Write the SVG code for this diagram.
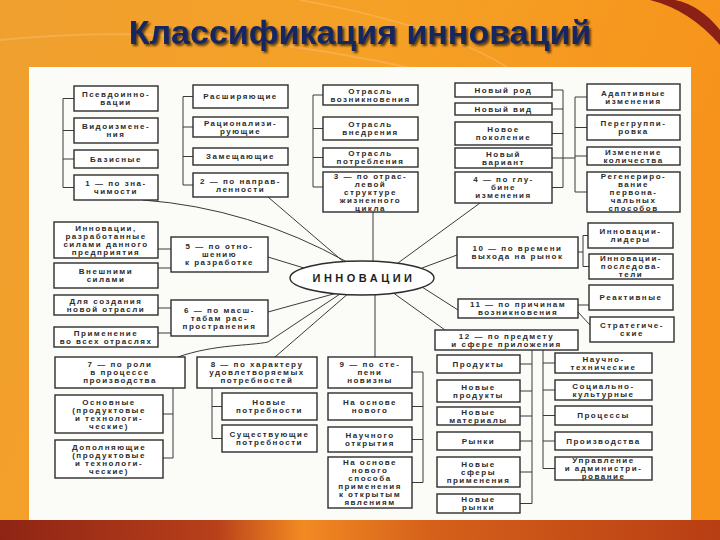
<svg xmlns="http://www.w3.org/2000/svg" width="720" height="540" viewBox="0 0 720 540">
<defs>
<linearGradient id="bg" x1="0" y1="0" x2="1" y2="0.3">
<stop offset="0" stop-color="#f0a030"/>
<stop offset="0.5" stop-color="#f5a126"/>
<stop offset="1" stop-color="#f7921a"/>
</linearGradient>
<linearGradient id="bot" x1="0" y1="0" x2="1" y2="0">
<stop offset="0" stop-color="#8e2414"/>
<stop offset="0.3" stop-color="#b8401a"/>
<stop offset="0.42" stop-color="#f28a22"/>
<stop offset="0.6" stop-color="#d5601a"/>
<stop offset="1" stop-color="#b83e14"/>
</linearGradient>
<filter id="sh" x="-5%" y="-20%" width="110%" height="150%">
<feDropShadow dx="2" dy="2" stdDeviation="0.8" flood-color="#2a1a05" flood-opacity="0.75"/>
</filter>
<style>
.b{fill:#fff;stroke:#2d2d2d;stroke-width:1.4}
.c{fill:none;stroke:#3a3a3a;stroke-width:1}
.t{font-family:"Liberation Sans","DejaVu Sans",sans-serif;font-size:8px;font-weight:bold;letter-spacing:1.5px;fill:#2b2b2b;text-anchor:middle}
.e{font-family:"Liberation Sans","DejaVu Sans",sans-serif;font-size:11px;font-weight:bold;letter-spacing:3.5px;fill:#1e1e1e;text-anchor:middle}
.ti{font-family:"Liberation Sans","Arial",sans-serif;font-size:34px;font-weight:bold;text-anchor:middle;fill:#182660}
</style>
</defs>
<rect x="0" y="0" width="720" height="540" fill="url(#bg)"/>
<path d="M0,40 Q200,20 420,70" fill="none" stroke="#f8b860" stroke-width="2" opacity="0.6"/>
<path d="M300,0 Q520,40 560,120" fill="none" stroke="#fbc070" stroke-width="1.5" opacity="0.5"/>
<path d="M650,0 Q690,10 720,45 L720,30 Q700,5 675,0 Z" fill="#8a2016"/>
<rect x="0" y="520" width="720" height="20" fill="url(#bot)"/>
<text class="ti" x="360" y="44" filter="url(#sh)">Классификация инноваций</text>
<rect x="29" y="67" width="662" height="453" fill="#fbfbf8"/>

<g id="connectors" class="c">
<path d="M74,98.5 H63 V187.5 H74 M63,130.5 H74 M63,159 H74"/>
<path d="M193,96.5 H183 V185 H193 M183,127 H193 M183,156.5 H193"/>
<path d="M323,95 H313 V187 H323 M313,128.5 H323 M313,157.5 H323"/>
<path d="M552,90 H563 V187.5 H552 M552,109 H563 M552,133.5 H563 M552,158 H575"/>
<path d="M587,97 H575 V192 H587 M575,127.5 H587 M575,156 H587"/>
<path d="M373,212 V270"/>
<path d="M480,203 L398,263"/>
<path d="M143,200 Q250,208 347,262"/>
<path d="M268,197 L345,263"/>
<path d="M268,257 L304,268"/>
<path d="M268,312 L337,293"/>
<path d="M178,357 C215,344 250,346 268,342 L343,292"/>
<path d="M275,357 L350,292"/>
<path d="M375,357 V290"/>
<path d="M457,255 L422,268"/>
<path d="M458,310 L422,287"/>
<path d="M445,330 L392,292"/>
<path d="M158,249 H171 M158,268 H171"/>
<path d="M158,308 H171 M158,333 H171"/>
<path d="M173,388 V458 H163 M173,414 H163"/>
<path d="M212,388 V438.5 H222 M212,406.5 H222"/>
<path d="M412,372 H423 V482.5 H412 M423,406.5 H412 M423,439.5 H412"/>
<path d="M578,252 H583 V235.5 H588 M583,252 V266.5 H589"/>
<path d="M578,305 H589 M578,312 L590,325"/>
<path d="M532,350 V503.5 H520 M532,364 H520 M532,391 H520 M532,416 H520 M532,441 H520 M532,472 H520"/>
<path d="M543,350 V468.5 H555 M543,363 H555 M543,390 H555 M543,415.5 H555 M543,441 H555"/>
</g>

<g id="center"><ellipse class="b" cx="362" cy="278" rx="72" ry="17"/><text class="e" x="364" y="282">ИННОВАЦИИ</text></g>

<g id="n1a"><rect class="b" x="74" y="86" width="84" height="25"/><text class="t" y="97.4"><tspan x="116">Псевдоинно-</tspan><tspan x="116" dy="8">вации</tspan></text></g>
<g id="n1b"><rect class="b" x="74" y="118" width="84" height="25"/><text class="t" y="129.4"><tspan x="116">Видоизмене-</tspan><tspan x="116" dy="8">ния</tspan></text></g>
<g id="n1c"><rect class="b" x="74" y="150" width="84" height="18"/><text class="t" x="116" y="161.9">Базисные</text></g>
<g id="n1"><rect class="b" x="74" y="175" width="84" height="25"/><text class="t" y="186.4"><tspan x="116">1 — по зна-</tspan><tspan x="116" dy="8">чимости</tspan></text></g>

<g id="n2a"><rect class="b" x="193" y="85" width="95" height="23"/><text class="t" x="240.5" y="99.4">Расширяющие</text></g>
<g id="n2b"><rect class="b" x="193" y="117" width="95" height="20"/><text class="t" y="125.9"><tspan x="240.5">Рационализи-</tspan><tspan x="240.5" dy="8">рующие</tspan></text></g>
<g id="n2c"><rect class="b" x="193" y="148" width="95" height="17"/><text class="t" x="240.5" y="159.4">Замещающие</text></g>
<g id="n2"><rect class="b" x="193" y="173" width="95" height="24"/><text class="t" y="183.9"><tspan x="240.5">2 — по направ-</tspan><tspan x="240.5" dy="8">ленности</tspan></text></g>

<g id="n3a"><rect class="b" x="323" y="85" width="95" height="20"/><text class="t" y="93.9"><tspan x="370.5">Отрасль</tspan><tspan x="370.5" dy="8">возникновения</tspan></text></g>
<g id="n3b"><rect class="b" x="323" y="117" width="95" height="23"/><text class="t" y="127.4"><tspan x="370.5">Отрасль</tspan><tspan x="370.5" dy="8">внедрения</tspan></text></g>
<g id="n3c"><rect class="b" x="323" y="148" width="95" height="19"/><text class="t" y="156.4"><tspan x="370.5">Отрасль</tspan><tspan x="370.5" dy="8">потребления</tspan></text></g>
<g id="n3"><rect class="b" x="323" y="172" width="95" height="40"/><text class="t" y="178.9"><tspan x="370.5">3 — по отрас-</tspan><tspan x="370.5" dy="8">левой</tspan><tspan x="370.5" dy="8">структуре</tspan><tspan x="370.5" dy="8">жизненного</tspan><tspan x="370.5" dy="8">цикла</tspan></text></g>

<g id="n4a"><rect class="b" x="455" y="83" width="97" height="14"/><text class="t" x="503.5" y="92.9">Новый род</text></g>
<g id="n4b"><rect class="b" x="455" y="103" width="97" height="12"/><text class="t" x="503.5" y="111.9">Новый вид</text></g>
<g id="n4c"><rect class="b" x="455" y="122" width="97" height="23"/><text class="t" y="132.4"><tspan x="503.5">Новое</tspan><tspan x="503.5" dy="8">поколение</tspan></text></g>
<g id="n4d"><rect class="b" x="455" y="148" width="97" height="20"/><text class="t" y="156.9"><tspan x="503.5">Новый</tspan><tspan x="503.5" dy="8">вариант</tspan></text></g>
<g id="n4"><rect class="b" x="455" y="172" width="97" height="31"/><text class="t" y="182.4"><tspan x="503.5">4 — по глу-</tspan><tspan x="503.5" dy="8">бине</tspan><tspan x="503.5" dy="8">изменения</tspan></text></g>

<g id="n4e"><rect class="b" x="587" y="84" width="93" height="26"/><text class="t" y="95.9"><tspan x="633.5">Адаптивные</tspan><tspan x="633.5" dy="8">изменения</tspan></text></g>
<g id="n4f"><rect class="b" x="587" y="115" width="93" height="25"/><text class="t" y="126.4"><tspan x="633.5">Перегруппи-</tspan><tspan x="633.5" dy="8">ровка</tspan></text></g>
<g id="n4g"><rect class="b" x="587" y="147" width="93" height="18"/><text class="t" y="154.9"><tspan x="633.5">Изменение</tspan><tspan x="633.5" dy="8">количества</tspan></text></g>
<g id="n4h"><rect class="b" x="587" y="172" width="93" height="40"/><text class="t" y="178.9"><tspan x="633.5">Регенериро-</tspan><tspan x="633.5" dy="8">вание</tspan><tspan x="633.5" dy="8">первона-</tspan><tspan x="633.5" dy="8">чальных</tspan><tspan x="633.5" dy="8">способов</tspan></text></g>

<g id="n5a"><rect class="b" x="54" y="222" width="104" height="36"/><text class="t" y="230.9"><tspan x="106">Инновации,</tspan><tspan x="106" dy="8">разработанные</tspan><tspan x="106" dy="8">силами данного</tspan><tspan x="106" dy="8">предприятия</tspan></text></g>
<g id="n5b"><rect class="b" x="54" y="263" width="104" height="25"/><text class="t" y="274.4"><tspan x="106">Внешними</tspan><tspan x="106" dy="8">силами</tspan></text></g>
<g id="n6a"><rect class="b" x="54" y="295" width="104" height="20"/><text class="t" y="303.9"><tspan x="106">Для создания</tspan><tspan x="106" dy="8">новой отрасли</tspan></text></g>
<g id="n6b"><rect class="b" x="54" y="327" width="104" height="20"/><text class="t" y="335.9"><tspan x="106">Применение</tspan><tspan x="106" dy="8">во всех отраслях</tspan></text></g>

<g id="n5"><rect class="b" x="171" y="237" width="97" height="35"/><text class="t" y="249.4"><tspan x="219.5">5 — по отно-</tspan><tspan x="219.5" dy="8">шению</tspan><tspan x="219.5" dy="8">к разработке</tspan></text></g>
<g id="n6"><rect class="b" x="171" y="300" width="97" height="36"/><text class="t" y="312.9"><tspan x="219.5">6 — по масш-</tspan><tspan x="219.5" dy="8">табам рас-</tspan><tspan x="219.5" dy="8">пространения</tspan></text></g>

<g id="n7"><rect class="b" x="55" y="357" width="130" height="31"/><text class="t" y="367.4"><tspan x="120">7 — по роли</tspan><tspan x="120" dy="8">в процессе</tspan><tspan x="120" dy="8">производства</tspan></text></g>
<g id="n7a"><rect class="b" x="55" y="395" width="108" height="38"/><text class="t" y="404.9"><tspan x="109">Основные</tspan><tspan x="109" dy="8">(продуктовые</tspan><tspan x="109" dy="8">и технологи-</tspan><tspan x="109" dy="8">ческие)</tspan></text></g>
<g id="n7b"><rect class="b" x="55" y="440" width="108" height="38"/><text class="t" y="449.9"><tspan x="109">Дополняющие</tspan><tspan x="109" dy="8">(продуктовые</tspan><tspan x="109" dy="8">и технологи-</tspan><tspan x="109" dy="8">ческие)</tspan></text></g>

<g id="n8"><rect class="b" x="197" y="357" width="120" height="31"/><text class="t" y="367.4"><tspan x="257">8 — по характеру</tspan><tspan x="257" dy="8">удовлетворяемых</tspan><tspan x="257" dy="8">потребностей</tspan></text></g>
<g id="n8a"><rect class="b" x="222" y="393" width="95" height="27"/><text class="t" y="405.4"><tspan x="269.5">Новые</tspan><tspan x="269.5" dy="8">потребности</tspan></text></g>
<g id="n8b"><rect class="b" x="222" y="425" width="95" height="27"/><text class="t" y="437.4"><tspan x="269.5">Существующие</tspan><tspan x="269.5" dy="8">потребности</tspan></text></g>

<g id="n9"><rect class="b" x="328" y="357" width="84" height="31"/><text class="t" y="367.4"><tspan x="370">9 — по сте-</tspan><tspan x="370" dy="8">пени</tspan><tspan x="370" dy="8">новизны</tspan></text></g>
<g id="n9a"><rect class="b" x="328" y="393" width="84" height="27"/><text class="t" y="405.4"><tspan x="370">На основе</tspan><tspan x="370" dy="8">нового</tspan></text></g>
<g id="n9b"><rect class="b" x="328" y="427" width="84" height="25"/><text class="t" y="438.4"><tspan x="370">Научного</tspan><tspan x="370" dy="8">открытия</tspan></text></g>
<g id="n9c"><rect class="b" x="328" y="457" width="84" height="51"/><text class="t" y="465.4"><tspan x="370">На основе</tspan><tspan x="370" dy="8">нового</tspan><tspan x="370" dy="8">способа</tspan><tspan x="370" dy="8">применения</tspan><tspan x="370" dy="8">к открытым</tspan><tspan x="370" dy="8">явлениям</tspan></text></g>

<g id="n10"><rect class="b" x="457" y="237" width="121" height="31"/><text class="t" y="251.4"><tspan x="517.5">10 — по времени</tspan><tspan x="517.5" dy="8">выхода на рынок</tspan></text></g>
<g id="n10a"><rect class="b" x="588" y="223" width="85" height="25"/><text class="t" y="234.4"><tspan x="630.5">Инновации-</tspan><tspan x="630.5" dy="8">лидеры</tspan></text></g>
<g id="n10b"><rect class="b" x="589" y="254" width="84" height="25"/><text class="t" y="261.4"><tspan x="631">Инновации-</tspan><tspan x="631" dy="8">последова-</tspan><tspan x="631" dy="8">тели</tspan></text></g>

<g id="n11"><rect class="b" x="458" y="299" width="120" height="19"/><text class="t" y="307.4"><tspan x="518">11 — по причинам</tspan><tspan x="518" dy="8">возникновения</tspan></text></g>
<g id="n11a"><rect class="b" x="589" y="285" width="84" height="25"/><text class="t" x="631" y="300.4">Реактивные</text></g>
<g id="n11b"><rect class="b" x="590" y="317" width="84" height="25"/><text class="t" y="328.4"><tspan x="632">Стратегиче-</tspan><tspan x="632" dy="8">ские</tspan></text></g>

<g id="n12"><rect class="b" x="435" y="330" width="143" height="20"/><text class="t" y="338.9"><tspan x="506.5">12 — по предмету</tspan><tspan x="506.5" dy="8">и сфере приложения</tspan></text></g>
<g id="n12a"><rect class="b" x="437" y="355" width="83" height="18"/><text class="t" x="478.5" y="366.9">Продукты</text></g>
<g id="n12b"><rect class="b" x="437" y="380" width="83" height="22"/><text class="t" y="389.9"><tspan x="478.5">Новые</tspan><tspan x="478.5" dy="8">продукты</tspan></text></g>
<g id="n12c"><rect class="b" x="437" y="407" width="83" height="18"/><text class="t" y="414.9"><tspan x="478.5">Новые</tspan><tspan x="478.5" dy="8">материалы</tspan></text></g>
<g id="n12d"><rect class="b" x="437" y="432" width="83" height="18"/><text class="t" x="478.5" y="443.9">Рынки</text></g>
<g id="n12e"><rect class="b" x="437" y="457" width="83" height="30"/><text class="t" y="466.9"><tspan x="478.5">Новые</tspan><tspan x="478.5" dy="8">сферы</tspan><tspan x="478.5" dy="8">применения</tspan></text></g>
<g id="n12f"><rect class="b" x="437" y="494" width="83" height="19"/><text class="t" y="502.4"><tspan x="478.5">Новые</tspan><tspan x="478.5" dy="8">рынки</tspan></text></g>
<g id="n12g"><rect class="b" x="555" y="353" width="97" height="20"/><text class="t" y="361.9"><tspan x="603.5">Научно-</tspan><tspan x="603.5" dy="8">технические</tspan></text></g>
<g id="n12h"><rect class="b" x="555" y="380" width="97" height="20"/><text class="t" y="388.9"><tspan x="603.5">Социально-</tspan><tspan x="603.5" dy="8">культурные</tspan></text></g>
<g id="n12i"><rect class="b" x="555" y="406" width="97" height="19"/><text class="t" x="603.5" y="418.4">Процессы</text></g>
<g id="n12j"><rect class="b" x="555" y="432" width="97" height="18"/><text class="t" x="603.5" y="443.9">Производства</text></g>
<g id="n12k"><rect class="b" x="555" y="457" width="97" height="23"/><text class="t" y="463.4"><tspan x="603.5">Управление</tspan><tspan x="603.5" dy="8">и администри-</tspan><tspan x="603.5" dy="8">рование</tspan></text></g>
</svg>
